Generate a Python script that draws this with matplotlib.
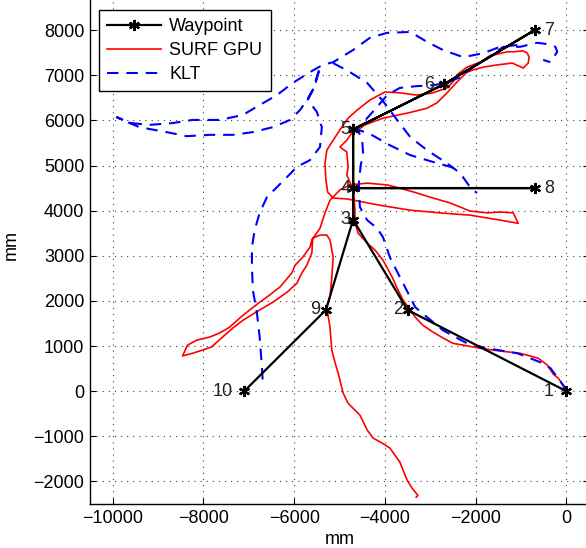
import numpy as np
import matplotlib
matplotlib.use("Agg")
import matplotlib.pyplot as plt

plt.rcParams['font.family'] = ['Liberation Sans', 'DejaVu Sans']
plt.rcParams['font.size'] = 13

# waypoints (mm) and the order they were visited in
wp_x = [0, -3500, -4700, -4700, -4700, -2700, -700, -700, -5300, -7100]
wp_y = [0, 1800, 3800, 4500, 5800, 6800, 8000, 4500, 1800, 0]
wp_names = ['1', '2', '3', '4', '5', '6', '7', '8', '9', '10']
wp_route = [1, 2, 3, 4, 5, 6, 7, 6, 5, 4, 8, 4, 3, 9, 10]

# SURF GPU estimated path (mm)
surf_xy = np.array([
    (0, 0), (-20, 70), (-180, 290), (-290, 380), (-420, 580), (-620, 730),
    (-1020, 840), (-1460, 890), (-1900, 950), (-2270, 1020), (-2500, 1060),
    (-2720, 1180), (-2940, 1310), (-3160, 1460), (-3330, 1640), (-3440, 1800),
    (-3600, 2020), (-3710, 2240), (-3840, 2530), (-4040, 2900), (-4220, 3130),
    (-4390, 3280), (-4590, 3500), (-4660, 3750), (-4660, 4010), (-4680, 4280),
    (-4700, 4460), (-4770, 4630), (-4840, 4790), (-4810, 4970), (-4840, 5300),
    (-4990, 5410), (-4840, 5560), (-4730, 5720), (-4590, 5790), (-4440, 5900),
    (-4040, 6050), (-3510, 6160), (-3070, 6270), (-2850, 6390), (-2630, 6610),
    (-2410, 6850), (-2190, 7070), (-2050, 7120), (-1830, 7180), (-1520, 7230),
    (-1190, 7270), (-950, 7160), (-840, 7270), (-820, 7400), (-860, 7490),
    (-950, 7540), (-1170, 7520), (-1300, 7520), (-1520, 7470), (-1680, 7430),
    (-1900, 7290), (-2190, 7180), (-2410, 7010), (-2500, 6850), (-2630, 6720),
    (-2940, 6610), (-3290, 6560), (-3670, 6610), (-4000, 6630), (-4330, 6450),
    (-4610, 6230), (-4810, 6050), (-4990, 5790), (-5140, 5560), (-5280, 5340),
    (-5320, 5050), (-5300, 4680), (-5260, 4410), (-5140, 4280), (-4840, 4260),
    (-4110, 4120), (-3440, 4010), (-2780, 3950), (-2120, 3900), (-1460, 3790),
    (-1060, 3720), (-1170, 3950), (-1460, 3970), (-1740, 3950), (-2120, 3990),
    (-2560, 4170), (-2940, 4280), (-3290, 4390), (-3670, 4500), (-3950, 4570),
    (-4390, 4610), (-4770, 4570), (-4990, 4460), (-5210, 4230), (-5320, 3950),
    (-5430, 3610), (-5520, 3480), (-5610, 3350), (-5650, 3190), (-5810, 2970),
    (-5980, 2790), (-6050, 2620), (-6310, 2310), (-6540, 2130), (-6760, 1970),
    (-6980, 1800), (-7200, 1620), (-7420, 1420), (-7640, 1290), (-7860, 1200),
    (-8150, 1130), (-8350, 1020), (-8460, 780), (-8240, 840), (-8020, 910),
    (-7820, 980), (-7600, 1180), (-7350, 1400), (-7130, 1570), (-6760, 1800),
    (-6470, 1970), (-6160, 2190), (-5940, 2390), (-5830, 2620), (-5720, 2790),
    (-5610, 3060), (-5590, 3390), (-5430, 3460), (-5280, 3460), (-5210, 3350),
    (-5140, 2970), (-5170, 2530), (-5210, 2080), (-5280, 1860), (-5210, 1420),
    (-5170, 910), (-5100, 640), (-5030, 400), (-4920, -40), (-4810, -270),
    (-4550, -530), (-4390, -860), (-4260, -1040), (-4060, -1150), (-3890, -1260),
    (-3670, -1570), (-3510, -1970), (-3400, -2150), (-3270, -2310), (-3310, -2350),
])

# KLT estimated path (mm), pieces split by NaN
nan = np.nan
klt_xy = np.array([
    (0, 0), (-70, 130), (-200, 310), (-350, 510), (-570, 640), (-1080, 840),
    (-1740, 950), (-2190, 1060), (-2720, 1350), (-3070, 1640), (-3330, 1860),
    (-3440, 2080), (-3670, 2530), (-3890, 2970), (-4040, 3410), (-4170, 3610),
    (-4390, 3790), (-4550, 4080), (-4570, 4390), (-4570, 4680), (-4530, 5010),
    (-4480, 5280), (-4500, 5560), (-4610, 5830), (-4390, 6050), (-4170, 6300),
    (-3950, 6560), (-3670, 6720), (-3290, 6760), (-2940, 6780), (-2630, 6830),
    (-2340, 6960), (-2050, 7180), (-1740, 7380), (-1390, 7630), (-1020, 7630),
    (-640, 7720), (-420, 7690), (-240, 7630), (-200, 7520), (-350, 7290),
    (-510, 7340),
    (nan, nan),
    (-1080, 7670), (-1460, 7630), (-1830, 7490), (-2270, 7400), (-2720, 7560),
    (-3070, 7740), (-3440, 7960), (-3950, 7940), (-4330, 7830), (-4700, 7560),
    (-5140, 7290), (-5370, 7230), (-5650, 7070), (-6030, 6830), (-6380, 6560),
    (-6760, 6340), (-7130, 6120), (-7640, 6010), (-8240, 6010), (-8680, 5940),
    (-9190, 5900), (-9580, 5940), (-9910, 6070), (-9740, 5990), (-9410, 5850),
    (-8810, 5740), (-8370, 5650), (-7860, 5680), (-7350, 5680), (-6910, 5740),
    (-6470, 5850), (-6090, 6010), (-5870, 6230), (-5720, 6450), (-5590, 6670),
    (-5500, 6960), (-5430, 7180), (-5540, 6780), (-5700, 6450), (-5500, 6190),
    (-5390, 5850), (-5430, 5410), (-5650, 5120), (-5940, 4970), (-6160, 4740),
    (-6380, 4520), (-6600, 4300), (-6760, 3950), (-6870, 3570), (-6930, 3190),
    (-6930, 2750), (-6910, 2240), (-6820, 1730), (-6760, 1200), (-6710, 530),
    (-6690, 180),
    (nan, nan),
    (-5140, 7270), (-4770, 7070), (-4390, 6830), (-4060, 6450), (-3730, 6010),
    (-3440, 5630), (-3070, 5340), (-2630, 5050), (-2340, 4830), (-2120, 4520),
    (-1970, 4390),
    (nan, nan),
    (-4700, 5830), (-4330, 5700), (-3890, 5450), (-3440, 5230), (-2940, 5080),
    (-2450, 4940),
])

# label placement (points): left of the star unless positive
label_dx = {'1': -9, '2': -3, '3': -2, '4': -2, '5': -2, '6': -7,
            '7': 7, '8': 7, '9': -4, '10': -8}

fig = plt.figure(figsize=(5.86, 5.48), dpi=100)
ax = fig.add_axes([90 / 586, 44 / 548, 499 / 586, 519 / 548])

ax.set_axisbelow(True)
ax.grid(True, color='0.25', linestyle=(0, (1, 4.5)), linewidth=0.8)

route_x = [wp_x[i - 1] for i in wp_route]
route_y = [wp_y[i - 1] for i in wp_route]
h_wp, = ax.plot(route_x, route_y, color='black', linewidth=1.6,
                marker=(6, 2, 0), markersize=8, markeredgewidth=1.6,
                zorder=4, label='Waypoint')
h_surf, = ax.plot(surf_xy[:, 0], surf_xy[:, 1], color='#ff0000',
                  linewidth=1.2, zorder=3, label='SURF GPU')
h_klt, = ax.plot(klt_xy[:, 0], klt_xy[:, 1], color='#0000ff', linewidth=1.5,
                 linestyle=(0, (5.5, 3.8)), zorder=3, label='KLT')

for name, x, y in zip(wp_names, wp_x, wp_y):
    dx = label_dx[name]
    ax.annotate(name, (x, y), xytext=(dx, 0), textcoords='offset points',
                ha='right' if dx < 0 else 'left', va='center', fontsize=13,
                color='#222222', zorder=5)

ax.set_xlim(-10500, 500)
ax.set_ylim(-2500, 9000)
ax.set_xticks(range(-10000, 1, 2000))
ax.set_yticks(range(-2000, 8001, 1000))
ax.tick_params(direction='in', length=4, width=0.8, top=True, right=True,
               pad=4)
for s in ax.spines.values():
    s.set_linewidth(1.0)
ax.set_xlabel('mm', labelpad=3)
ax.set_ylabel('mm', labelpad=10)

leg = ax.legend(handles=[h_wp, h_surf, h_klt], loc='upper left',
                bbox_to_anchor=(99 / 586, 1 - 10 / 548),
                bbox_transform=fig.transFigure, borderaxespad=0,
                fancybox=False, framealpha=1, edgecolor='black',
                handlelength=3.0, handletextpad=0.45, labelspacing=0.38,
                borderpad=0.45, fontsize=13)
leg.get_frame().set_linewidth(1.0)

fig.savefig('out.png', dpi=100)
